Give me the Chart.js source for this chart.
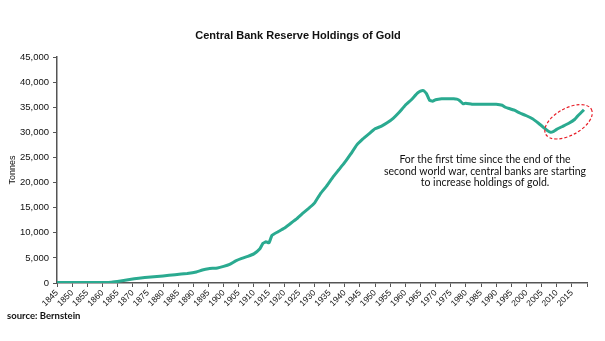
<!DOCTYPE html>
<html>
<head>
<meta charset="utf-8">
<script src="https://cdn.jsdelivr.net/npm/chart.js@4.4.1/dist/chart.umd.min.js"></script>
<style>
  html, body { margin: 0; padding: 0; background: #fff; }
  #wrap { width: 605px; height: 341px; }
</style>
</head>
<body>
<div id="wrap"><canvas id="goldChart"></canvas></div>
<script>
// Data (tonnes)
const years = [1845, 1850, 1855, 1860, 1863, 1866, 1869, 1872, 1876, 1880, 1884, 1888, 1891, 1893, 1895, 1898,
  1900, 1902, 1904, 1906, 1908, 1910, 1912, 1913, 1914, 1915, 1916, 1918, 1920, 1922, 1924, 1926, 1928,
  1930, 1932, 1934, 1936, 1938, 1940, 1942, 1944, 1946, 1948, 1950, 1952, 1954, 1956, 1958, 1960, 1962,
  1964, 1965, 1966, 1967, 1968, 1969, 1970, 1972, 1974, 1976, 1977, 1978, 1979, 1980, 1982, 1984, 1986,
  1988, 1990, 1992, 1993, 1994, 1996, 1998, 2000, 2002, 2004, 2006, 2007, 2008, 2009, 2010, 2012, 2014,
  2016, 2017, 2018, 2019];
const tonnes = [100, 100, 100, 100, 150, 400, 700, 950, 1200, 1400, 1650, 1900, 2200, 2600, 2850, 3000,
  3300, 3700, 4400, 4900, 5300, 5800, 6800, 7900, 8200, 8000, 9500, 10200, 10900, 11800, 12700, 13800, 14800,
  15900, 17800, 19300, 21000, 22500, 24000, 25700, 27500, 28700, 29700, 30700, 31200, 31900, 32800, 34000, 35400, 36500,
  37800, 38200, 38300, 37700, 36400, 36200, 36500, 36700, 36700, 36700, 36600, 36300, 35700, 35800, 35600, 35600, 35600,
  35600, 35600, 35400, 35000, 34800, 34400, 33800, 33300, 32700, 31800, 30800, 30300, 30000, 30200, 30600, 31200, 31800,
  32600, 33300, 33900, 34500];

const yTicks = [0, 5000, 10000, 15000, 20000, 25000, 30000, 35000, 40000, 45000];
const xFirst = 1845, xLast = 2020, xStep = 5;

const chartTitle = 'Central Bank Reserve Holdings of Gold';
const yTitle = 'Tonnes';
const sourceNote = 'source: Bernstein';
const noteLines = [
  'For the first time since the end of the',
  'second world war, central banks are starting',
  'to increase holdings of gold.'
];

const lineColor = '#2aaa90';
const axisColor = '#555555';

// Custom text + highlight ellipse
const extras = {
  id: 'extras',
  afterDraw(chart) {
    const ctx = chart.ctx;
    const xs = chart.scales.x, ys = chart.scales.y;
    ctx.save();
    ctx.fillStyle = '#111';
    ctx.textAlign = 'center';
    ctx.textBaseline = 'middle';
    ctx.font = 'bold 11px "Liberation Sans", Arial, sans-serif';
    ctx.fillText(chartTitle, 298, 36);

    ctx.font = '10.5px Lato, "Open Sans", sans-serif';
    noteLines.forEach((t, i) => ctx.fillText(t, 485, 160 + i * 11.3));

    ctx.textAlign = 'left';
    ctx.font = 'bold 9.5px Lato, "Open Sans", sans-serif';
    ctx.fillText(sourceNote, 7, 316);

    // dashed ellipse around the recent rise
    const cx = xs.getPixelForValue(2013.9);
    const cy = ys.getPixelForValue(32100);
    ctx.beginPath();
    ctx.ellipse(cx, cy, 26, 13.5, -0.5, 0, Math.PI * 2);
    ctx.strokeStyle = '#e8202a';
    ctx.lineWidth = 1.2;
    ctx.setLineDash([3, 2]);
    ctx.stroke();
    ctx.restore();
  }
};

new Chart(document.getElementById('goldChart'), {
  type: 'line',
  data: {
    datasets: [{
      data: years.map((y, i) => ({ x: y, y: tonnes[i] })),
      borderColor: lineColor,
      borderWidth: 3,
      pointRadius: 0,
      tension: 0.1,
      fill: false
    }]
  },
  options: {
    responsive: true,
    maintainAspectRatio: false,
    animation: false,
    layout: { padding: { top: 57, right: 18, left: 0, bottom: 0 } },
    plugins: { legend: { display: false }, tooltip: { enabled: false } },
    scales: {
      x: {
        type: 'linear',
        min: xFirst,
        max: xLast,
        afterFit: s => { s.height = 58; },
        border: { color: axisColor, width: 1.5 },
        grid: { display: true, drawOnChartArea: false, drawTicks: true, tickLength: 4, color: axisColor },
        ticks: {
          stepSize: xStep,
          autoSkip: false,
          minRotation: 45,
          maxRotation: 45,
          padding: 1,
          color: '#111',
          font: { family: '"Liberation Sans", Arial, sans-serif', size: 8.5 },
          callback: v => (v === xLast ? '' : String(v))
        }
      },
      y: {
        min: 0,
        max: 45000,
        afterFit: s => { s.width = 57; },
        afterBuildTicks: s => { s.ticks = yTicks.map(v => ({ value: v })); },
        border: { color: axisColor, width: 1.5 },
        grid: { display: true, drawOnChartArea: false, drawTicks: true, tickLength: 4, color: axisColor },
        title: {
          display: true,
          text: yTitle,
          color: '#111',
          padding: { top: 7, bottom: 0 },
          font: { family: '"Liberation Sans", Arial, sans-serif', size: 9 }
        },
        ticks: {
          padding: 4,
          color: '#111',
          font: { family: '"Liberation Sans", Arial, sans-serif', size: 9.5 },
          callback: v => v.toLocaleString('en-US')
        }
      }
    }
  },
  plugins: [extras]
});
</script>
</body>
</html>
